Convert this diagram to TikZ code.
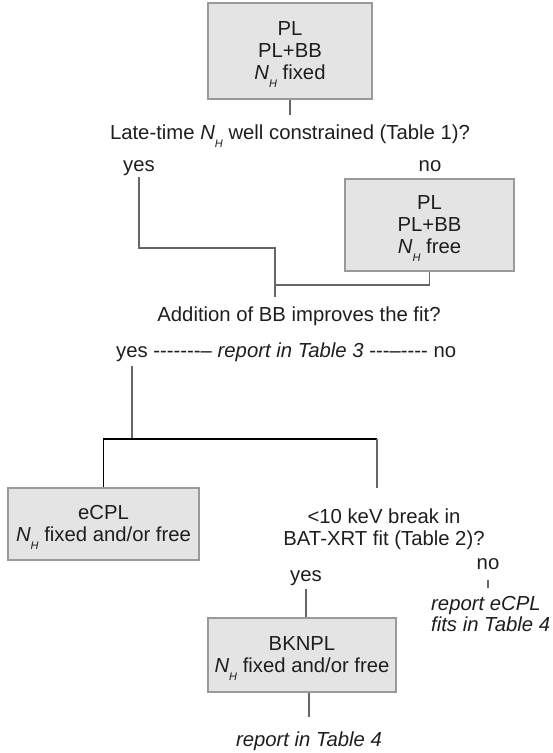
\documentclass[tikz,border=0pt]{standalone}
\usepackage{fontspec}
\setmainfont{Liberation Sans}
\definecolor{txt}{HTML}{1E1E1E}
\definecolor{boxfill}{HTML}{E4E4E4}
\definecolor{boxline}{HTML}{9A9A9A}
\definecolor{conn}{HTML}{666666}
\newcommand{\NH}{\textit{N}\smash{\raisebox{-8pt}{\fontsize{11}{11}\selectfont\textit{H}}}}
\newcommand{\hy}{-\kern0pt}
\newcommand{\dashA}{\hy\hy\hy\hy\hy\hy\hy\kern0pt–}
\newcommand{\dashB}{\hy\hy\hy\kern0pt–\kern0pt\hy\hy\hy\hy}
\begin{document}
\begin{tikzpicture}[x=1pt,y=-1pt,
  every node/.style={text=txt, font=\fontsize{20.3}{22}\selectfont, inner sep=0pt},
  model/.style={draw=boxline, fill=boxfill, line width=1.2pt, align=center},
  conn/.style={draw=conn, line width=1.3pt},
  blk/.style={draw=black, line width=1.3pt}]
\useasboundingbox (0,0) rectangle (553,753);
% boxes
\node[model, minimum width=164pt, minimum height=96pt] (m1) at (290,51) {PL\\PL+BB\\\NH\ fixed};
\node[model, minimum width=169pt, minimum height=92pt] (m2) at (429.5,225) {PL\\PL+BB\\\NH\ free};
\node[model, minimum width=191pt, minimum height=72pt] (m3) at (103.5,524) {eCPL\\\NH\ fixed and/or free};
\node[model, minimum width=188pt, minimum height=74pt] (m4) at (302,655) {BKNPL\\\NH\ fixed and/or free};
% texts
\node[anchor=base] (q1) at (290,139) {Late-time \NH\ well constrained (Table 1)?};
\node[anchor=base] (yes1) at (139,171) {yes};
\node[anchor=base] (no1) at (430,171) {no};
\node[anchor=base] (q2) at (299,321) {Addition of BB improves the fit?};
\node[anchor=base west] (r3) at (116,357) {yes \dashA\ \textit{report in Table 3} \dashB\ no};
\node[align=center] (q3) at (384,529) {<10 keV break in\\BAT-XRT fit (Table 2)?};
\node[anchor=base] (yes3) at (306,581) {yes};
\node[anchor=base] (no3) at (488,569) {no};
\node[align=left, anchor=west, font=\fontsize{20.3}{21}\selectfont\itshape] (rep1) at (431,614) {report eCPL\\fits in Table 4};
\node[anchor=base] (rep2) at (309,746) {\textit{report in Table 4}};
% coordinates
\coordinate (j1) at (275,248);
\coordinate (j2) at (275,285);
\coordinate (y2) at (132,366);
\coordinate (j3) at (132,439);
\coordinate (j4) at (377,439);
\coordinate (e4) at (377,488);
% connectors
\draw[conn] (m1.south) -- (m1.south |- 0,115);
\draw[conn, shorten <=2pt] (yes1.south) |- (j1) -- (j1 |- 0,297);
\draw[conn] (m2.south) |- (j2);
\draw[conn] (y2) -- (j3);
\draw[blk] (m3.north) |- (j4);
\draw[conn] (j4) -- (e4);
\draw[conn, shorten <=4pt] (yes3.south) -- (yes3.south |- m4.north);
\draw[conn] (m4.south -| rep2.north) -- (rep2.north |- 0,717);
\draw[conn] (no3.south |- 0,580) -- (no3.south |- 0,588);
\end{tikzpicture}
\end{document}
